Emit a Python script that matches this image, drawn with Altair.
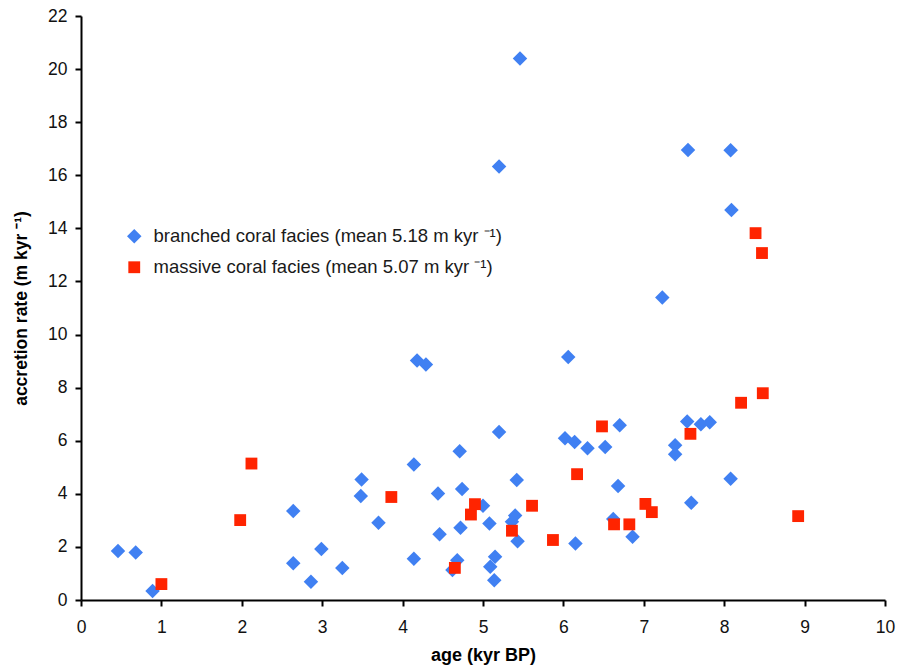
import altair as alt
import pandas as pd

branched_age = [0.46, 0.68, 0.89, 2.64, 2.64, 2.86, 2.99, 3.25, 3.49, 3.48, 3.70,
                4.14, 4.14, 4.18, 4.29, 4.44, 4.46, 4.62, 4.68, 4.71, 4.74, 4.72,
                5.00, 5.08, 5.09, 5.15, 5.14, 5.20, 5.20, 5.46, 5.42, 5.40, 5.36,
                5.43, 6.02, 6.06, 6.14, 6.30, 6.52, 6.15, 6.70, 6.68, 6.62, 6.86,
                7.23, 7.39, 7.39, 7.55, 7.54, 7.59, 7.71, 7.82, 8.08, 8.09, 8.08]
branched_rate = [1.85, 1.79, 0.34, 3.35, 1.38, 0.69, 1.92, 1.21, 4.54, 3.92, 2.91,
                 5.10, 1.55, 9.02, 8.87, 4.01, 2.48, 1.13, 1.50, 5.60, 4.18, 2.72,
                 3.55, 2.88, 1.25, 1.63, 0.74, 6.33, 16.33, 20.40, 4.52, 3.18, 2.95,
                 2.21, 6.09, 9.15, 5.95, 5.72, 5.76, 2.13, 6.58, 4.29, 3.05, 2.38,
                 11.40, 5.83, 5.49, 16.95, 6.72, 3.66, 6.62, 6.70, 16.94, 14.69, 4.57]

massive_age = [1.00, 1.98, 2.12, 3.86, 4.65, 4.85, 4.90, 5.36, 5.61, 5.87, 6.17,
               6.48, 6.63, 6.82, 7.02, 7.10, 7.58, 8.21, 8.39, 8.47, 8.48, 8.92]
massive_rate = [0.60, 3.01, 5.14, 3.88, 1.21, 3.22, 3.61, 2.61, 3.55, 2.26, 4.74,
                6.54, 2.85, 2.85, 3.62, 3.31, 6.26, 7.43, 13.82, 13.07, 7.79, 3.16]

series_names = ["branched coral facies (mean 5.18 m kyr \u207b\u00b9)",
                "massive coral facies (mean 5.07 m kyr \u207b\u00b9)"]
x_ticks = list(range(0, 11))
y_ticks = list(range(0, 23, 2))

df = pd.concat([
    pd.DataFrame({"age": branched_age, "rate": branched_rate, "facies": series_names[0]}),
    pd.DataFrame({"age": massive_age, "rate": massive_rate, "facies": series_names[1]}),
], ignore_index=True)

FONT = "Liberation Sans"

chart = alt.Chart(df).mark_point(filled=True, opacity=1).encode(
    x=alt.X("age:Q", scale=alt.Scale(domain=[0, 10], nice=False, zero=True),
            axis=alt.Axis(values=x_ticks, title="age (kyr BP)", grid=False,
                          format="d", labelFlush=False, labelOverlap=False,
                          labelPadding=12, titlePadding=11, titleFontSize=18)),
    y=alt.Y("rate:Q", scale=alt.Scale(domain=[0, 22], nice=False),
            axis=alt.Axis(values=y_ticks, title="accretion rate (m kyr \u207b\u00b9)", grid=False,
                          format="d", labelFlush=False, labelOverlap=False,
                          labelPadding=8, titlePadding=17, titleFontSize=17.5)),
    color=alt.Color("facies:N", scale=alt.Scale(domain=series_names, range=["#4080F2", "#FF2400"]),
                    legend=alt.Legend(title=None, orient="none", legendX=44, legendY=211,
                                      labelFontSize=18.5, labelFont=FONT, labelColor="#1a1a1a",
                                      symbolSize=150, rowPadding=12, labelOffset=10,
                                      labelLimit=600, symbolOpacity=1, symbolStrokeWidth=0)),
    shape=alt.Shape("facies:N", scale=alt.Scale(domain=series_names, range=["diamond", "square"]),
                    legend=None),
    size=alt.Size("facies:N", scale=alt.Scale(domain=series_names, range=[210, 140]), legend=None),
).properties(
    width=804, height=584,
    autosize=alt.AutoSizeParams(type="none"),
    padding={"left": 81, "top": 16, "right": 26, "bottom": 72},
).configure_view(stroke=None).configure_axis(
    domainColor="black", domainWidth=2, tickColor="black", tickWidth=2, tickSize=6,
    labelFont=FONT, labelFontSize=17.5, labelColor="#111111",
    titleFont=FONT, titleFontWeight="bold", titleColor="black",
)

chart.save("out.html", embed_options={"renderer": "svg", "actions": False})
